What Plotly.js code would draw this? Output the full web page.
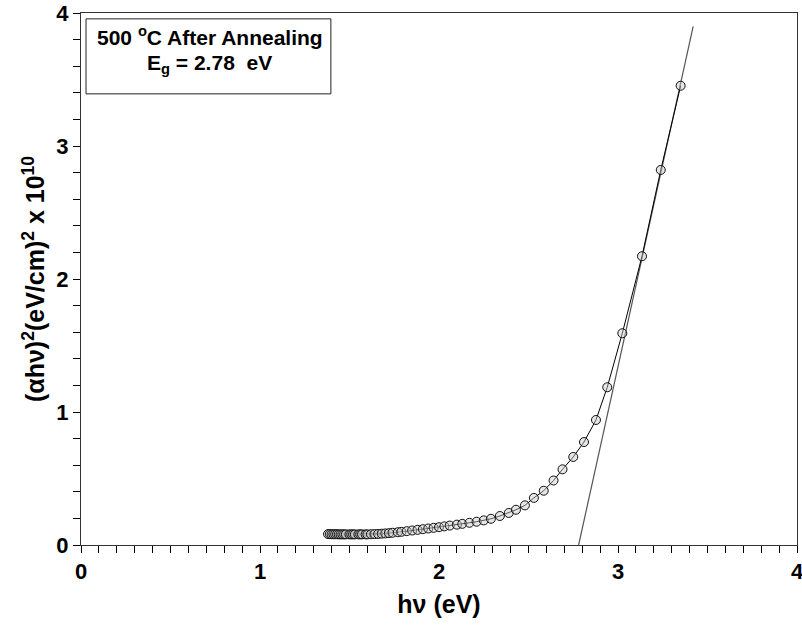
<!DOCTYPE html>
<html>
<head>
<meta charset="utf-8">
<script src="https://cdn.plot.ly/plotly-3.0.1.min.js"></script>
<style>html,body{margin:0;padding:0;background:#fff;}#chart{width:802px;height:628px;}</style>
</head>
<body>
<div id="chart"></div>
<script>
// Photon energy hν (eV)
var energy = [1.38, 1.39, 1.40, 1.41, 1.42, 1.43, 1.44, 1.45, 1.46, 1.47, 1.48, 1.50, 1.51, 1.52, 1.53, 1.55, 1.56, 1.57, 1.59, 1.60,
              1.62, 1.64, 1.66, 1.68, 1.70, 1.72, 1.74, 1.77, 1.79, 1.82, 1.85, 1.88, 1.91, 1.94, 1.97, 2.00, 2.03, 2.06, 2.10, 2.13,
              2.17, 2.21, 2.25, 2.29, 2.34, 2.39, 2.43, 2.48, 2.53, 2.585, 2.64, 2.69, 2.75, 2.81, 2.877, 2.94, 3.024, 3.134, 3.239, 3.350];
// (αhν)^2 in units of 10^10 (eV/cm)^2
var alphaHv2 = [0.082, 0.082, 0.081, 0.081, 0.081, 0.081, 0.080, 0.080, 0.080, 0.080, 0.080, 0.080, 0.080, 0.080, 0.080, 0.080, 0.080, 0.080, 0.080, 0.080,
                0.081, 0.082, 0.083, 0.085, 0.087, 0.089, 0.092, 0.096, 0.099, 0.104, 0.109, 0.114, 0.119, 0.124, 0.129, 0.134, 0.140, 0.146, 0.153, 0.159,
                0.167, 0.175, 0.185, 0.197, 0.218, 0.241, 0.265, 0.298, 0.354, 0.408, 0.485, 0.569, 0.662, 0.774, 0.940, 1.186, 1.592, 2.171, 2.820, 3.453];
// Linear extrapolation giving Eg
var fitX = [2.78, 3.42];
var fitY = [0.0, 3.90];

var xTickVals = [0, 1, 2, 3, 4];
var yTickVals = [0, 1, 2, 3, 4];

var fnt = 'Liberation Sans, Arial, sans-serif';

var traces = [
  {
    x: fitX, y: fitY, mode: 'lines', type: 'scatter',
    line: {color: '#555555', width: 1.2},
    hoverinfo: 'skip', showlegend: false
  },
  {
    x: energy, y: alphaHv2, mode: 'lines+markers', type: 'scatter',
    line: {color: '#000000', width: 1},
    marker: {symbol: 'circle', size: 9, color: 'rgba(200,200,200,0.45)', line: {color: '#111111', width: 1}},
    showlegend: false
  }
];

var layout = {
  width: 802, height: 628,
  margin: {l: 81, r: 5, t: 13, b: 83},
  paper_bgcolor: '#ffffff', plot_bgcolor: '#ffffff',
  showlegend: false,
  xaxis: {
    range: [0, 4], tickvals: xTickVals, ticktext: xTickVals.map(String),
    ticks: 'outside', ticklen: 7, tickwidth: 1, tickcolor: '#000',
    minor: {dtick: 0.1, ticks: 'outside', ticklen: 7, tickwidth: 1, tickcolor: '#000', showgrid: false},
    showgrid: false, zeroline: false, ticklabeloverflow: 'allow',
    showline: true, linecolor: '#333', linewidth: 1, mirror: true,
    tickfont: {family: fnt, size: 22, weight: 'bold', color: '#000'},
    title: {text: 'hν (eV)', font: {family: fnt, size: 25, weight: 'bold', color: '#000'}, standoff: 12}
  },
  yaxis: {
    range: [0, 4], tickvals: yTickVals, ticktext: yTickVals.map(String),
    ticks: 'outside', ticklen: 7, tickwidth: 1, tickcolor: '#000',
    minor: {dtick: 0.2, ticks: 'outside', ticklen: 7, tickwidth: 1, tickcolor: '#000', showgrid: false},
    showgrid: false, zeroline: false, ticklabeloverflow: 'allow',
    showline: true, linecolor: '#333', linewidth: 1, mirror: true,
    tickfont: {family: fnt, size: 22, weight: 'bold', color: '#000'},
    title: {text: '(αhν)<sup>2</sup>(eV/cm)<sup>2</sup> x 10<sup>10</sup>', font: {family: fnt, size: 25, weight: 'bold', color: '#000'}, standoff: 4}
  },
  shapes: [
    {type: 'rect', xref: 'paper', yref: 'paper', x0: 0.007, x1: 0.349, y0: 0.848, y1: 0.989,
     line: {color: '#222', width: 1}, fillcolor: 'rgba(255,255,255,0)'}
  ],
  annotations: [
    {xref: 'paper', yref: 'paper', x: 0.180, y: 0.956, xanchor: 'center', yanchor: 'middle', showarrow: false,
     text: '500 <sup>o</sup>C After Annealing', font: {family: fnt, size: 21, weight: 'bold', color: '#000'}},
    {xref: 'paper', yref: 'paper', x: 0.180, y: 0.905, xanchor: 'center', yanchor: 'middle', showarrow: false,
     text: 'E<sub>g</sub> = 2.78&nbsp; eV', font: {family: fnt, size: 21, weight: 'bold', color: '#000'}}
  ]
};

Plotly.newPlot('chart', traces, layout, {displayModeBar: false, staticPlot: true});
</script>
</body>
</html>
